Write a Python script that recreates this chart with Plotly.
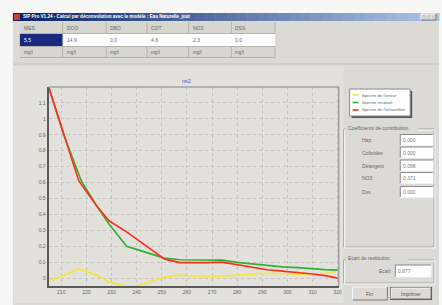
import plotly.graph_objects as go

W, H = 442, 305
FONT = "Liberation Sans"

# ---------------- data ----------------
x_err = [205, 211, 217, 224, 229, 236, 240, 245, 251, 257, 262, 268, 274, 280, 286, 292, 298, 304, 309, 315, 320]
y_err = [-0.02, 0.02, 0.057, 0.02, -0.025, -0.05, -0.05, -0.025, 0.006, 0.018, 0.012, 0.008, 0.012, 0.02, 0.025, 0.03, 0.028, 0.025, 0.022, 0.03, 0.045]

x_res = [205, 211, 218, 224, 229, 236, 240, 245, 251, 257, 262, 268, 274, 280, 286, 292, 298, 304, 309, 315, 320]
y_res = [1.2, 0.9, 0.61, 0.456, 0.34, 0.2, 0.18, 0.155, 0.125, 0.115, 0.113, 0.112, 0.112, 0.098, 0.088, 0.077, 0.07, 0.065, 0.058, 0.053, 0.05]

x_ech = [205, 211, 217, 224, 229, 236, 240, 245, 251, 257, 262, 268, 274, 280, 286, 292, 298, 304, 309, 315, 320]
y_ech = [1.2, 0.9, 0.61, 0.455, 0.36, 0.29, 0.245, 0.19, 0.12, 0.097, 0.095, 0.097, 0.1, 0.083, 0.068, 0.052, 0.043, 0.035, 0.027, 0.015, 0.0]

series_names = ["Spectre de l'erreur", "Spectre résiduel", "Spectre de l'échantillon"]
series_colors = ["#f2e640", "#33b033", "#ff3020"]

x_ticks = [210, 220, 230, 240, 250, 260, 270, 280, 290, 300, 310, 320]
x_ticklabels = [str(v) for v in x_ticks]
y_ticks = [0, 0.1, 0.2, 0.3, 0.4, 0.5, 0.6, 0.7, 0.8, 0.9, 1.0, 1.1]
y_ticklabels = ["0", "0.1", "0.2", "0.3", "0.4", "0.5", "0.6", "0.7", "0.8", "0.9", "1", "1.1"]

table_headers = ["MES", "DCO", "DBO", "COT", "NO3", "DSS"]
table_values = ["5.5", "14.9", "0.0", "4.6", "2.3", "0.0"]
table_units = ["mg/l"] * 6

coef_labels = ["Hap", "Colloïdes", "Détergent", "NO3", "Dss"]
coef_values = ["0.000", "0.000", "0.098", "0.371", "0.000"]
ecart_value = "0.877"

window_title = "SIP Pro V1.24 - Calcul par déconvolution avec le modèle : Eau Naturelle_jout"
plot_title = "ns2"

# ---------------- helpers ----------------
def px(x):
    return x / W

def py(y):
    return 1 - y / H

shapes = []
annotations = []

def rect(x0, y0, x1, y1, fill, line=None, lw=0, layer="below"):
    shapes.append(dict(type="rect", xref="paper", yref="paper",
                       x0=px(x0), x1=px(x1), y0=py(y1), y1=py(y0),
                       fillcolor=fill, line=dict(color=line or fill, width=lw), layer=layer))

def hline(x0, x1, y, color, lw=1):
    shapes.append(dict(type="line", xref="paper", yref="paper", x0=px(x0), x1=px(x1),
                       y0=py(y), y1=py(y), line=dict(color=color, width=lw), layer="below"))

def vline(x, y0, y1, color, lw=1):
    shapes.append(dict(type="line", xref="paper", yref="paper", x0=px(x), x1=px(x),
                       y0=py(y0), y1=py(y1), line=dict(color=color, width=lw), layer="below"))

def text(x, y, s, size=5, color="#555555", anchor="left", bold=False):
    if bold:
        s = "<b>" + s + "</b>"
    annotations.append(dict(xref="paper", yref="paper", x=px(x), y=py(y), text=s,
                            showarrow=False, xanchor=anchor, yanchor="middle",
                            borderpad=0, font=dict(size=size, color=color, family=FONT)))

def sunken(x0, y0, x1, y1, fill="#ffffff"):
    rect(x0, y0, x1, y1, fill)
    hline(x0, x1, y0, "#8a8a8a")
    vline(x0, y0, y1, "#8a8a8a")
    hline(x0, x1, y1, "#f4f4f4")
    vline(x1, y0, y1, "#f4f4f4")

def raised(x0, y0, x1, y1, fill="#dcdad4"):
    rect(x0, y0, x1, y1, fill)
    hline(x0, x1, y0, "#fafafa")
    vline(x0, y0, y1, "#fafafa")
    hline(x0, x1, y1, "#7a7a7a")
    vline(x1, y0, y1, "#7a7a7a")

def groupbox(x0, y0, x1, y1):
    for off, col in ((0, "#a8a6a0"), (1, "#f6f6f4")):
        hline(x0 + off, x1 + off, y0 + off, col)
        hline(x0 + off, x1 + off, y1 + off, col)
        vline(x0 + off, y0 + off, y1 + off, col)
        vline(x1 + off, y0 + off, y1 + off, col)

# ---------------- window chrome ----------------
DIALOG = "#dcdad4"
rect(13, 13, 442, 305, DIALOG)
# title bar gradient
c0 = (10, 36, 106)
c1 = (172, 196, 228)
steps = 40
tx0, tx1 = 13, 442
for i in range(steps):
    t = i / (steps - 1)
    col = "rgb(%d,%d,%d)" % tuple(int(c0[k] + (c1[k] - c0[k]) * t) for k in range(3))
    a = tx0 + (tx1 - tx0) * i / steps
    b = tx0 + (tx1 - tx0) * (i + 1) / steps + 0.5
    rect(a, 13, b, 21, col)
rect(14, 14, 20, 20, "#c84040")
text(22, 17, window_title, size=4.6, color="#ffffff", bold=True)
for bx in (424, 429, 434):
    raised(bx, 14, bx + 5, 20, "#d4d0c8")

# table
rect(20, 22, 277, 33, "#d8d6d0")
rect(20, 34, 277, 46, "#ffffff")
rect(20, 34, 63, 46, "#1a2a80")
rect(20, 47, 277, 57, "#d8d6d0")
col_edges = [20, 63, 107, 148, 190, 233, 277]
for xe in col_edges[1:]:
    vline(xe, 22, 33, "#b4b2ac")
    vline(xe, 47, 57, "#b4b2ac")
hline(20, 277, 33.5, "#b4b2ac")
hline(20, 277, 46.5, "#b4b2ac")
hline(20, 277, 57.5, "#b4b2ac")
for i in range(6):
    xl = col_edges[i] + 3
    text(xl, 28, table_headers[i], size=5, color="#666666")
    text(xl, 40, table_values[i], size=5, color="#ffffff" if i == 0 else "#666666")
    text(xl, 52.5, table_units[i], size=4.6, color="#666666")
hline(14, 442, 64, "#c4c2bc")

# chart panel
rect(14, 66, 346, 303, "#e3e1dc")

# legend box
rect(354, 91, 415, 118, "#555555")
rect(352, 89, 413, 116, "#ffffff", line="#8a8a8a", lw=1)
leg_y = [95, 102.5, 110]
for yy, col, nm in zip(leg_y, series_colors, series_names):
    hline(355, 361, yy, col, lw=1.6)
    text(363, yy, nm, size=4.2, color="#666666")

# coefficients group
groupbox(346, 129, 437, 247)
rect(348, 125, 420, 132, DIALOG)
text(349, 128, "Coefficients de contribution", size=5, color="#666666")
row_y = [140, 152.5, 165.5, 178, 192]
for yy, lab, val in zip(row_y, coef_labels, coef_values):
    text(363, yy, lab, size=5, color="#666666")
    sunken(403, yy - 5.5, 436, yy + 5.5)
    text(405, yy, val, size=5, color="#777777")

# ecart group
groupbox(346, 260, 437, 283)
rect(348, 255, 410, 262, DIALOG)
text(349, 258, "Ecart de restitution", size=5, color="#666666")
text(395, 271, "Ecart", size=5, color="#666666", anchor="right")
sunken(398, 265, 434, 277)
text(400, 271, ecart_value, size=5, color="#777777")

# buttons
raised(355, 287, 390, 300)
text(372.5, 293.5, "Fin", size=5, color="#555555", anchor="center")
rect(393, 287, 435, 300, "#444444")
raised(394, 288, 434, 299)
text(414, 293.5, "Imprimer", size=5, color="#555555", anchor="center")

# plot title
text(188, 81, plot_title, size=5.5, color="#5050c8", anchor="center")

# plot frame top / right (lighter)
shapes.append(dict(type="line", xref="x domain", yref="y domain", x0=0, x1=1, y0=1, y1=1,
                   line=dict(color="#a0a0a0", width=1.5), layer="above"))
shapes.append(dict(type="line", xref="x domain", yref="y domain", x0=1, x1=1, y0=0, y1=1,
                   line=dict(color="#a0a0a0", width=1.5), layer="above"))

# ---------------- figure ----------------
fig = go.Figure()
for xs, ys, nm, col in ((x_err, y_err, series_names[0], series_colors[0]),
                        (x_res, y_res, series_names[1], series_colors[1]),
                        (x_ech, y_ech, series_names[2], series_colors[2])):
    fig.add_trace(go.Scatter(x=xs, y=ys, mode="lines", name=nm,
                             line=dict(color=col, width=1.7), showlegend=False,
                             hoverinfo="skip"))

fig.update_layout(
    width=W, height=H, autosize=False,
    margin=dict(l=0, r=0, t=0, b=0, pad=0),
    paper_bgcolor="#f7f7f5",
    plot_bgcolor="#eae9e5",
    showlegend=False,
    shapes=shapes,
    annotations=annotations,
    font=dict(family=FONT, size=5, color="#666666"),
    xaxis=dict(domain=[px(49), px(341)], range=[205, 320.4],
               tickvals=x_ticks, ticktext=x_ticklabels, ticks="",
               showgrid=True, gridcolor="#c4c4c2", griddash="dot", gridwidth=1,
               showline=True, linecolor="#5a5a5a", linewidth=2, zeroline=False,
               tickfont=dict(size=5, color="#666666", family=FONT), fixedrange=True),
    yaxis=dict(domain=[py(286), py(87)], range=[-0.05, 1.2],
               tickvals=y_ticks, ticktext=y_ticklabels, ticks="",
               showgrid=True, gridcolor="#c4c4c2", griddash="dot", gridwidth=1,
               showline=True, linecolor="#5a5a5a", linewidth=2, zeroline=False,
               tickfont=dict(size=5, color="#666666", family=FONT), fixedrange=True),
)

fig.write_html("out.html", config={"displayModeBar": False},
               post_script="document.body.style.margin='0';document.body.style.padding='0';document.body.style.overflow='hidden';")
